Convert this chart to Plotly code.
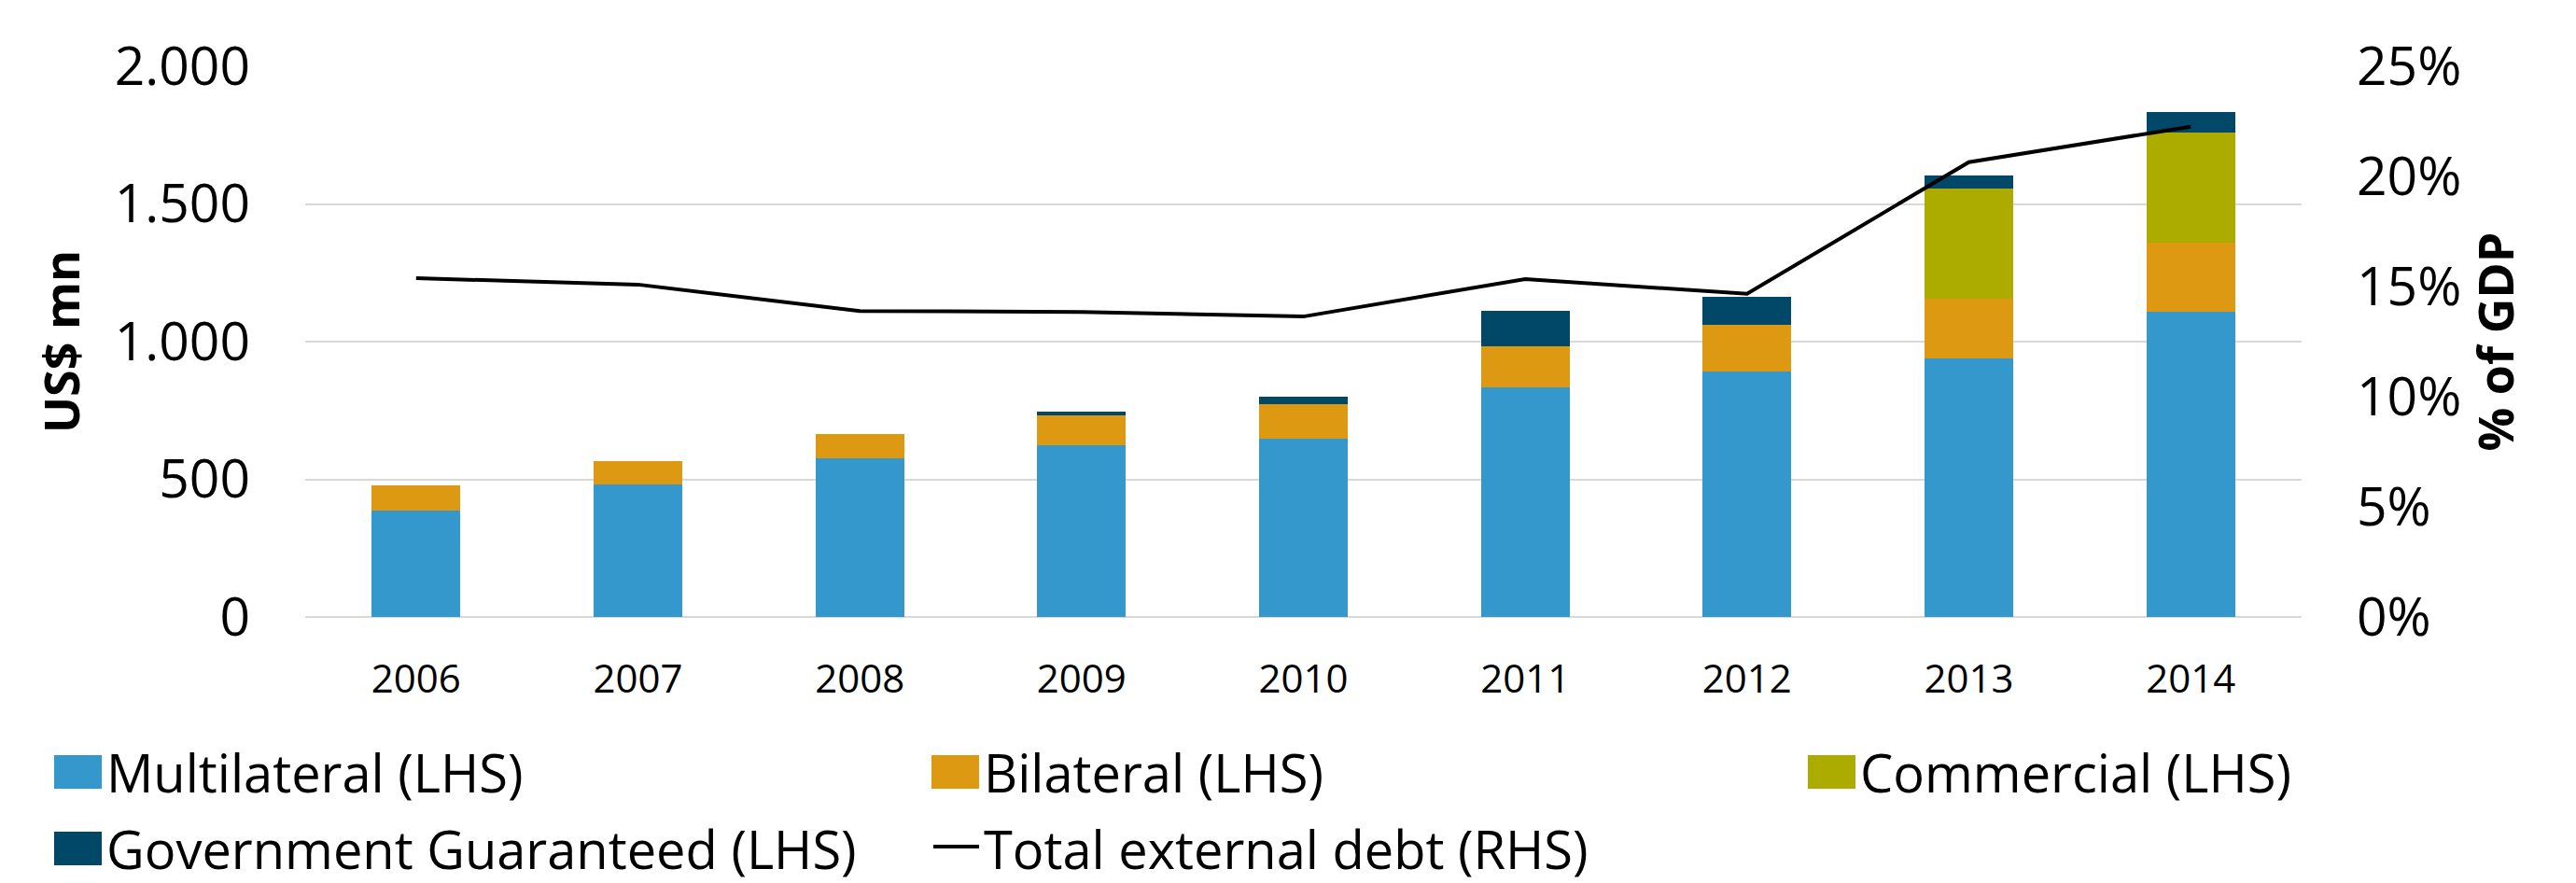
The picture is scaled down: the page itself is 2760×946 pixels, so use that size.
import plotly.graph_objects as go

# ---------------- data ----------------
years = ["2006", "2007", "2008", "2009", "2010", "2011", "2012", "2013", "2014"]
multilateral = [386, 482, 577, 623, 647, 833, 890, 938, 1108]
bilateral = [91, 83, 86, 110, 127, 150, 172, 218, 252]
commercial = [0, 0, 0, 0, 0, 0, 0, 400, 398]
gov_guaranteed = [0, 0, 0, 14, 25, 130, 102, 46, 76]
total_debt_pct_gdp = [15.38, 15.09, 13.89, 13.85, 13.64, 15.34, 14.67, 20.65, 22.26]

series_names = ["Multilateral (LHS)", "Bilateral (LHS)", "Commercial (LHS)",
                "Government Guaranteed (LHS)"]
line_name = "Total external debt (RHS)"
left_ticks = [0, 500, 1000, 1500, 2000]
right_ticks = [0, 5, 10, 15, 20, 25]
right_tick_labels = ["0%", "5%", "10%", "15%", "20%", "25%"]

# ---------------- style ----------------
COLORS = ["#3498CC", "#DD9912", "#ACAC00", "#014768"]
FONT = "Open Sans, Lato, sans-serif"
W, H = 2760, 946
M_L, M_R, M_T, M_B = 327, 294, 71, 285
PW, PH = W - M_L - M_R, H - M_T - M_B


def px_x(x):
    return (x - M_L) / PW


def px_y(y):
    return (H - M_B - y) / PH


fig = go.Figure()
for name, vals, col in zip(series_names,
                           [multilateral, bilateral, commercial, gov_guaranteed],
                           COLORS):
    fig.add_trace(go.Bar(x=years, y=vals, name=name, marker_color=col,
                         marker_line_width=0, showlegend=False))

fig.add_trace(go.Scatter(x=years, y=total_debt_pct_gdp, name=line_name,
                         mode="lines", line=dict(color="black", width=4),
                         yaxis="y2", showlegend=False))

# ---------------- manual legend ----------------
legend_cols = [58, 998, 1937]
legend_rows = [827, 909]
legend_items = [(series_names[0], COLORS[0], "box"),
                (series_names[1], COLORS[1], "box"),
                (series_names[2], COLORS[2], "box"),
                (series_names[3], COLORS[3], "box"),
                (line_name, "black", "line")]
shapes = []
annotations = []
for i, (label, col, kind) in enumerate(legend_items):
    cx = legend_cols[i % 3]
    cy = legend_rows[i // 3]
    if kind == "box":
        shapes.append(dict(type="rect", xref="paper", yref="paper",
                           x0=px_x(cx), x1=px_x(cx + 51),
                           y0=px_y(cy + 18), y1=px_y(cy - 18),
                           fillcolor=col, line=dict(width=0)))
    else:
        shapes.append(dict(type="line", xref="paper", yref="paper",
                           x0=px_x(cx + 2), x1=px_x(cx + 51),
                           y0=px_y(cy - 2), y1=px_y(cy - 2),
                           line=dict(color=col, width=4)))
    annotations.append(dict(text=label, xref="paper", yref="paper",
                            x=px_x(cx + 54), y=px_y(cy), xanchor="left",
                            yanchor="middle", showarrow=False,
                            font=dict(family=FONT, size=56, color="black")))

fig.update_layout(
    width=W, height=H, autosize=False,
    margin=dict(l=M_L, r=M_R, t=M_T, b=M_B, pad=0),
    paper_bgcolor="white", plot_bgcolor="white",
    barmode="stack", bargap=0.6,
    separators=",.",
    font=dict(family=FONT, color="black"),
    showlegend=False,
    shapes=shapes, annotations=annotations,
    xaxis=dict(type="category", tickfont=dict(size=42, family=FONT),
               showgrid=False, showline=False, ticks="", ticklabelstandoff=38),
    yaxis=dict(range=[0, 2000], tickvals=left_ticks, tickformat=",d",
               tickfont=dict(size=57, family=FONT),
               showgrid=True, gridcolor="#D9D9D9", gridwidth=2,
               zeroline=True, zerolinecolor="#D9D9D9", zerolinewidth=2,
               showline=False, ticks="", ticklabelstandoff=58,
               title=dict(text="US$ mn", standoff=20,
                          font=dict(size=52, family=FONT, weight="bold"))),
    yaxis2=dict(range=[0, 25], tickmode="array", tickvals=right_ticks,
                ticktext=right_tick_labels,
                overlaying="y", side="right",
                tickfont=dict(size=57, family=FONT),
                showgrid=False, zeroline=False, showline=False, ticks="",
                ticklabelstandoff=58,
                title=dict(text="% of GDP", standoff=20,
                           font=dict(size=52, family=FONT, weight="bold"))),
)

fig.write_html("out.html", config={"displayModeBar": False},
               post_script="document.body.style.margin='0';")
